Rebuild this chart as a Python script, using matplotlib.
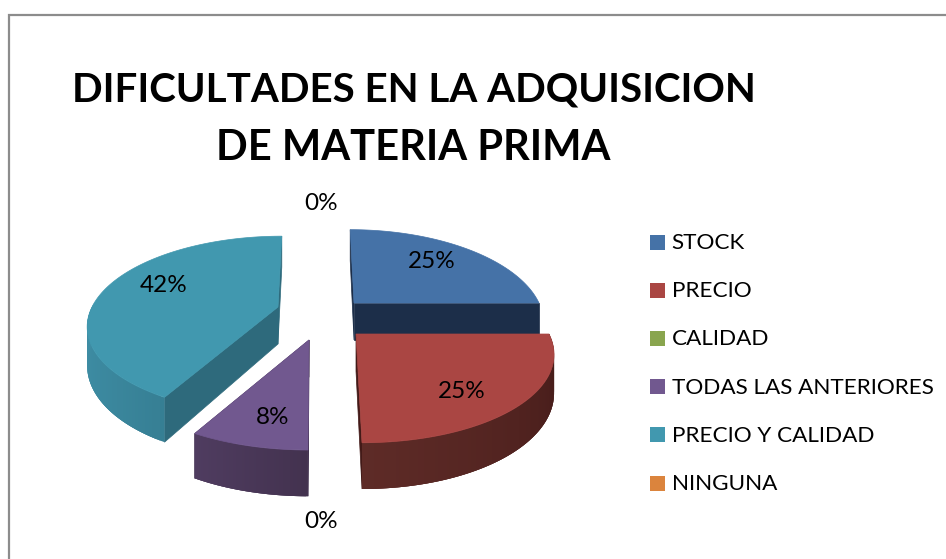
import numpy as np
import matplotlib
matplotlib.use("Agg")
import matplotlib.pyplot as plt
from matplotlib.colors import to_rgb
from matplotlib.patches import Polygon, Rectangle

plt.rcParams['font.family'] = ['Lato', 'DejaVu Sans']

title_lines = ["DIFICULTADES EN LA ADQUISICION", "DE MATERIA PRIMA"]
categories = ["STOCK", "PRECIO", "CALIDAD", "TODAS LAS ANTERIORES", "PRECIO Y CALIDAD", "NINGUNA"]
values = [25, 25, 0, 8, 42, 0]

top_colors = ["#4572A7", "#AA4643", "#89A54E", "#71588F", "#4198AF", "#DB843D"]
cut_colors = ["#1C2E49", "#431A18", "#3F4E22", "#40304F", "#2E6A7C", "#8A4F20"]
rim_front = ["#1C2E49", "#5E2B27", "#3F4E22", "#43324F", "#2F7285", "#8A4F20"]
rim_side = ["#1C2E49", "#431A18", "#3F4E22", "#5C4772", "#3E8DA4", "#8A4F20"]

# apex, radii of each exploded slice, in pixels
apex_x = [354, 356, 0, 309, 278, 0]
apex_y = [303, 334, 0, 340, 307, 0]
radius_x = [185, 193, 0, 194, 186, 0]
radius_y = [88, 87, 0, 88, 85, 0]
depth = 37
persp = 0.2
vanish_x = 316

label_x = [432, 462, 321, 273, 164, 321]
label_y = [262, 391, 203, 418, 286, 521]


def rim_point(i, theta):
    # theta clockwise from 12 o'clock, front of the pie is nearer so bigger
    u = np.sin(theta)
    v = -np.cos(theta)
    s = 1 / (1 - persp * v)
    lean = 0.6 * (apex_x[i] - vanish_x) * (s - 1)
    return apex_x[i] + radius_x[i] * u * s + lean, apex_y[i] + radius_y[i] * v * s, s


def draw_slice(ax, i, start, end):
    thetas = np.linspace(start, end, 120)
    pts = [rim_point(i, t) for t in thetas]
    xs = [p[0] for p in pts]
    ys = [p[1] for p in pts]
    ss = [p[2] for p in pts]
    ax0, ay0 = apex_x[i], apex_y[i]

    # the two cut faces
    for j in (0, -1):
        face = [(ax0, ay0), (xs[j], ys[j]), (xs[j], ys[j] + depth * ss[j]), (ax0, ay0 + depth)]
        ax.add_patch(Polygon(face, closed=True, fc=cut_colors[i], ec=cut_colors[i], lw=0.5, zorder=2 + i * 0.1))

    # outer wall, shaded strip by strip, each strip runs over the next one so no seams show
    c1 = np.array(to_rgb(rim_side[i]))
    c2 = np.array(to_rgb(rim_front[i]))
    for j in range(len(thetas) - 1):
        mid = (thetas[j] + thetas[j + 1]) / 2
        if mid < np.pi / 2 or mid > 3 * np.pi / 2:
            continue
        t = abs(np.sin(mid))
        col = c2 + (c1 - c2) * t
        if i == 1:
            t = (mid - np.pi / 2) / (np.pi / 2)
            col = c1 + (c2 - c1) * t
        k = min(j + 3, len(thetas) - 1)
        quad = list(zip(xs[j:k + 1], ys[j:k + 1]))
        quad += [(xs[n], ys[n] + depth * ss[n]) for n in range(k, j - 1, -1)]
        ax.add_patch(Polygon(quad, closed=True, fc=col, ec="none", zorder=2 + i * 0.1))

    top = [(ax0, ay0)] + list(zip(xs, ys))
    ax.add_patch(Polygon(top, closed=True, fc=top_colors[i], ec=top_colors[i], lw=0.5, zorder=2.05 + i * 0.1))


fig = plt.figure(figsize=(9.46, 5.59), dpi=100)
ax = fig.add_axes([0, 0, 1, 1])
ax.set_xlim(0, 946)
ax.set_ylim(559, 0)
ax.axis("off")

# chart frame, only top and left are in view
ax.plot([946, 8.5, 8.5], [14.5, 14.5, 559], color="#8C8C8C", lw=1.6, solid_joinstyle="miter")

total = sum(values)
edges = 2 * np.pi * np.cumsum([0] + values) / total
for i in [0, 4, 3, 1]:
    if values[i] > 0:
        draw_slice(ax, i, edges[i], edges[i + 1])

for i, v in enumerate(values):
    ax.text(label_x[i], label_y[i], f"{v}%", fontsize=17.5, color="black", ha="center", va="center", zorder=5)

ax.text(413.5, 90, title_lines[0], fontsize=29, fontweight="bold", color="black", ha="center", va="center")
ax.text(413.5, 148, title_lines[1], fontsize=30, fontweight="bold", color="black", ha="center", va="center")

for i, name in enumerate(categories):
    y = 242 + i * 48.2
    ax.add_patch(Rectangle((650, y - 7.5), 15, 15, fc=top_colors[i], ec="none"))
    ax.text(671.5, y + 1, name, fontsize=16.2, color="black", ha="left", va="center")

fig.savefig("out.png", dpi=100)
